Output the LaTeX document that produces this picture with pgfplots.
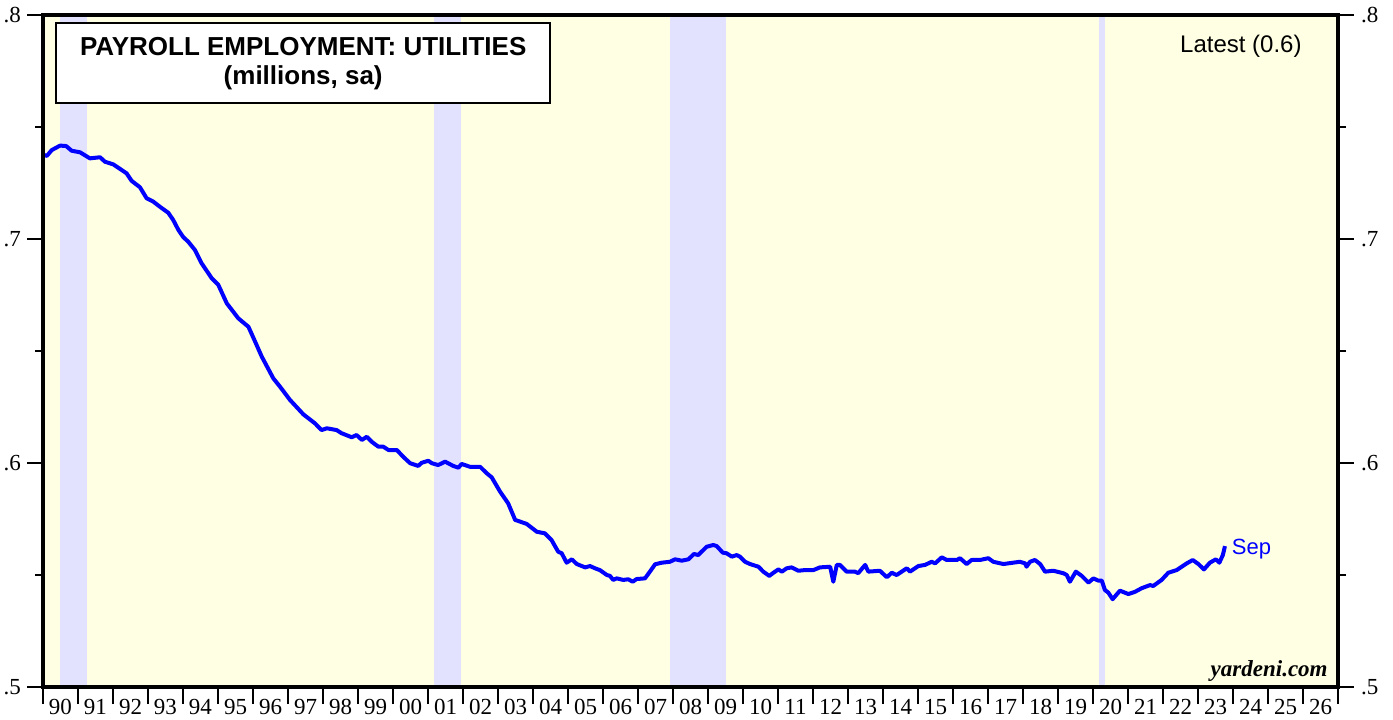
\documentclass[border=0pt]{standalone}
\usepackage{pgfplots}
\pgfplotsset{compat=1.18}
\usepackage{fontspec}
\setmainfont{Liberation Sans}
\newfontfamily\timesfont{Liberation Serif}
\definecolor{bgyellow}{RGB}{255,255,228}
\definecolor{band}{RGB}{226,226,255}
\begin{document}
\begin{tikzpicture}
\begin{axis}[
 at={(0,0)}, anchor=south west,
 scale only axis, width=647.5pt, height=336pt,
 xmin=1990, xmax=2027, ymin=0.5, ymax=0.8,
 axis background/.style={fill=bgyellow},
 axis on top,
 axis line style={line width=1.6pt},
 tick align=outside,
 tick pos=left,
 xtick={1990.5,1991.5,1992.5,1993.5,1994.5,1995.5,1996.5,1997.5,1998.5,1999.5,2000.5,2001.5,2002.5,2003.5,2004.5,2005.5,2006.5,2007.5,2008.5,2009.5,2010.5,2011.5,2012.5,2013.5,2014.5,2015.5,2016.5,2017.5,2018.5,2019.5,2020.5,2021.5,2022.5,2023.5,2024.5,2025.5,2026.5},
 xticklabels={90,91,92,93,94,95,96,97,98,99,00,01,02,03,04,05,06,07,08,09,10,11,12,13,14,15,16,17,18,19,20,21,22,23,24,25,26},
 major x tick style={draw=none},
 minor xtick={1990,1991,...,2027},
 minor x tick style={line width=1pt,black},
 minor tick length=8.5pt,
 major tick length=7.5pt,
 ytick={0.5,0.6,0.7,0.8},
 yticklabels={.5,.6,.7,.8},
 y tick style={black,line width=0.6pt},
 tick label style={font=\timesfont\fontsize{11.5}{13}\selectfont},
 xticklabel style={yshift=5pt},
 clip=true,
]
\addplot[draw=none,fill=band] coordinates {(1990.49,0.8)(1991.27,0.8)} \closedcycle;
\addplot[draw=none,fill=band] coordinates {(2001.17,0.8)(2001.94,0.8)} \closedcycle;
\addplot[draw=none,fill=band] coordinates {(2007.91,0.8)(2009.51,0.8)} \closedcycle;
\addplot[draw=none,fill=band] coordinates {(2020.17,0.8)(2020.34,0.8)} \closedcycle;
\addplot[blue, line width=2pt, line join=round] coordinates {
(1990.03,0.7375)(1990.11,0.7371)(1990.25,0.7397)(1990.49,0.7417)(1990.66,0.7415)(1990.82,0.7394)
(1991.06,0.7387)(1991.34,0.7360)(1991.63,0.7365)(1991.77,0.7345)(1992.01,0.7333)(1992.20,0.7313)
(1992.39,0.7293)(1992.53,0.7260)(1992.77,0.7231)(1992.96,0.7182)(1993.15,0.7167)(1993.34,0.7144)
(1993.58,0.7117)(1993.72,0.7085)(1993.87,0.7040)(1994.01,0.7008)(1994.15,0.6988)(1994.34,0.6951)
(1994.53,0.6892)(1994.82,0.6825)(1995.01,0.6795)(1995.25,0.6713)(1995.58,0.6646)(1995.87,0.6608)
(1996.06,0.6542)(1996.25,0.6475)(1996.58,0.6378)(1996.77,0.6341)(1997.06,0.6281)(1997.44,0.6217)
(1997.77,0.6177)(1997.96,0.6147)(1998.11,0.6155)(1998.39,0.6147)(1998.53,0.6133)(1998.82,0.6115)
(1998.96,0.6125)(1999.11,0.6103)(1999.25,0.6117)(1999.39,0.6095)(1999.58,0.6073)(1999.72,0.6073)
(1999.87,0.6058)(2000.11,0.6058)(2000.29,0.6028)(2000.49,0.5999)(2000.72,0.5987)(2000.82,0.6001)
(2001.01,0.6010)(2001.11,0.5999)(2001.29,0.5991)(2001.49,0.6006)(2001.72,0.5987)(2001.87,0.5979)
(2001.96,0.5996)(2002.20,0.5983)(2002.49,0.5983)(2002.68,0.5954)(2002.82,0.5936)(2003.06,0.5872)
(2003.29,0.5820)(2003.49,0.5746)(2003.82,0.5728)(2004.11,0.5693)(2004.34,0.5686)(2004.53,0.5656)
(2004.72,0.5604)(2004.82,0.5597)(2004.96,0.5555)(2005.11,0.5570)(2005.25,0.5549)(2005.49,0.5534)
(2005.63,0.5540)(2005.77,0.5530)(2005.91,0.5522)(2006.11,0.5500)(2006.20,0.5496)(2006.29,0.5478)
(2006.39,0.5485)(2006.58,0.5478)(2006.72,0.5481)(2006.85,0.5470)(2006.96,0.5482)(2007.20,0.5485)
(2007.34,0.5515)(2007.49,0.5548)(2007.68,0.5555)(2007.91,0.5559)(2008.06,0.5570)(2008.25,0.5564)
(2008.44,0.5570)(2008.60,0.5594)(2008.72,0.5589)(2008.96,0.5626)(2009.15,0.5634)(2009.25,0.5629)
(2009.42,0.5600)(2009.53,0.5597)(2009.68,0.5582)(2009.82,0.5589)(2009.91,0.5582)(2010.06,0.5559)
(2010.20,0.5549)(2010.44,0.5537)(2010.58,0.5515)(2010.75,0.5496)(2010.87,0.5510)(2011.01,0.5525)
(2011.11,0.5515)(2011.25,0.5530)(2011.39,0.5534)(2011.58,0.5519)(2011.77,0.5522)(2012.01,0.5522)
(2012.20,0.5534)(2012.49,0.5537)(2012.58,0.5470)(2012.68,0.5545)(2012.77,0.5545)(2012.96,0.5515)
(2013.20,0.5515)(2013.29,0.5508)(2013.49,0.5545)(2013.58,0.5515)(2013.91,0.5519)(2014.11,0.5490)
(2014.25,0.5510)(2014.39,0.5500)(2014.68,0.5530)(2014.77,0.5515)(2015.01,0.5540)(2015.20,0.5545)
(2015.39,0.5559)(2015.49,0.5552)(2015.68,0.5579)(2015.82,0.5567)(2016.11,0.5567)(2016.20,0.5575)
(2016.39,0.5549)(2016.53,0.5567)(2016.77,0.5567)(2017.01,0.5575)(2017.15,0.5559)(2017.44,0.5549)
(2017.72,0.5555)(2017.91,0.5559)(2018.06,0.5552)(2018.10,0.5537)(2018.20,0.5559)(2018.34,0.5567)
(2018.49,0.5549)(2018.63,0.5515)(2018.87,0.5519)(2019.15,0.5508)(2019.25,0.5500)(2019.34,0.5470)
(2019.51,0.5515)(2019.68,0.5496)(2019.87,0.5466)(2020.01,0.5485)(2020.15,0.5475)(2020.25,0.5475)
(2020.34,0.5433)(2020.44,0.5421)(2020.56,0.5392)(2020.77,0.5430)(2021.01,0.5415)(2021.20,0.5425)
(2021.39,0.5441)(2021.63,0.5455)(2021.72,0.5451)(2021.96,0.5478)(2022.15,0.5510)(2022.39,0.5522)
(2022.68,0.5552)(2022.85,0.5567)(2023.01,0.5549)(2023.17,0.5525)(2023.34,0.5555)(2023.51,0.5570)
(2023.61,0.5555)(2023.71,0.5589)(2023.77,0.5629)
} node[pos=1,anchor=west,inner sep=0pt,xshift=2.5pt,yshift=-1.5pt,text=blue,font=\fontsize{11}{13}\selectfont]{Sep};
\node[draw, line width=1.2pt, fill=white, anchor=north west, minimum width=247pt, minimum height=40pt, inner sep=0pt, align=center, font=\bfseries\fontsize{13}{14.5}\selectfont, xshift=6pt, yshift=-3.5pt] at (rel axis cs:0,1) {PAYROLL EMPLOYMENT: UTILITIES\\(millions, sa)};
\node[anchor=north east, inner sep=0pt, font=\fontsize{12}{14}\selectfont, xshift=-18pt, yshift=-10pt] at (rel axis cs:1,1) {Latest (0.6)};
\node[anchor=base east, inner sep=0pt, font=\timesfont\bfseries\itshape\fontsize{11.5}{13}\selectfont, xshift=-5pt, yshift=5.5pt] at (rel axis cs:1,0) {yardeni.com};
\end{axis}
\begin{axis}[
 at={(0,0)}, anchor=south west,
 scale only axis, width=647.5pt, height=336pt,
 xmin=1990, xmax=2027, ymin=0.5, ymax=0.8,
 hide x axis,
 axis line style={line width=1.6pt},
 tick align=outside,
 ytick={0.5,0.6,0.7,0.8},
 yticklabels={.5,.6,.7,.8},
 minor ytick={0.55,0.65,0.75},
 ytick pos=both, yticklabel pos=right,
 major tick length=8pt, minor tick length=4pt,
 y tick style={black,line width=0.6pt},
 tick label style={font=\timesfont\fontsize{11.5}{13}\selectfont},
]
\end{axis}
\pgfresetboundingbox
\path (-21.5pt,-16pt) rectangle (675pt,343.5pt);
\end{tikzpicture}
\end{document}
